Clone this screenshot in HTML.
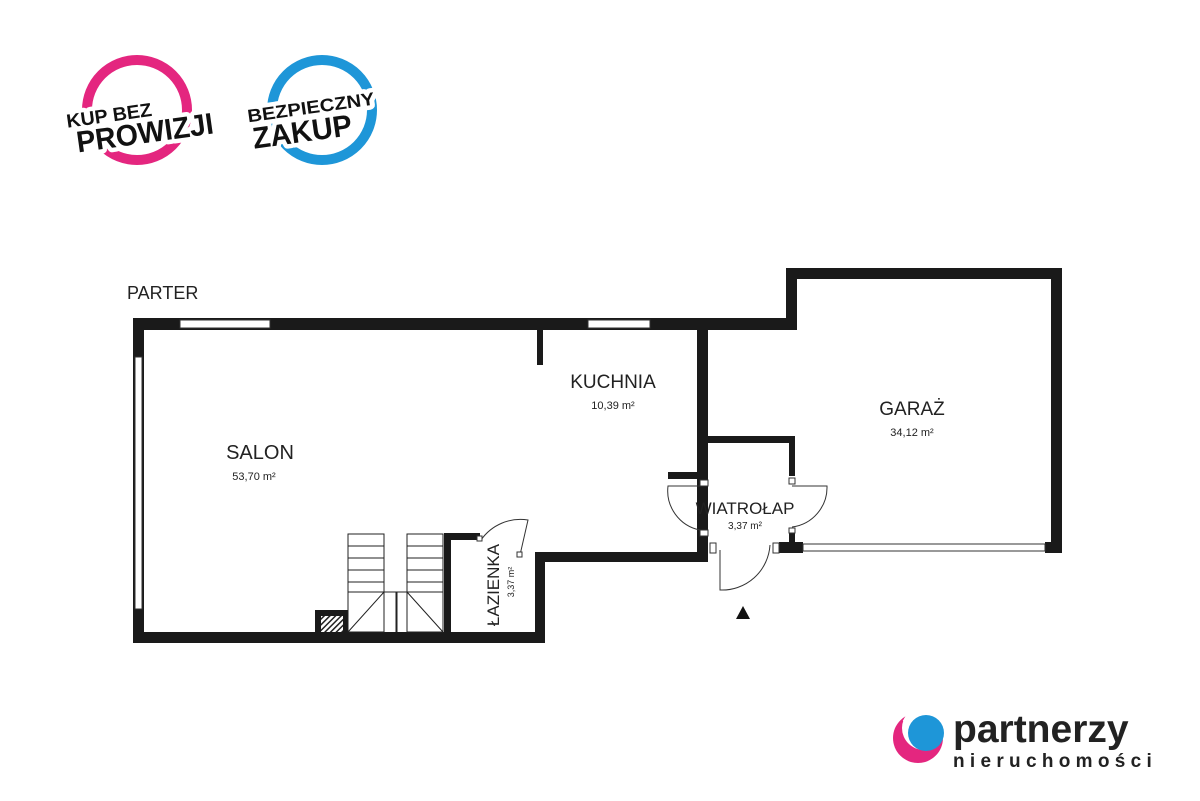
<!DOCTYPE html>
<html><head><meta charset="utf-8"><style>
html,body{margin:0;padding:0;background:#fff}
svg{display:block}
text{font-family:"Liberation Sans",sans-serif}
.b{font-weight:bold;fill:#111;stroke:#fff;stroke-width:9;paint-order:stroke;stroke-linejoin:round}
</style></head><body>
<svg width="1200" height="801" viewBox="0 0 1200 801" xmlns="http://www.w3.org/2000/svg">
<defs>
<pattern id="h" width="4" height="4" patternUnits="userSpaceOnUse" patternTransform="rotate(45)"><rect width="4" height="4" fill="#fff"/><rect width="1.5" height="4" fill="#222"/></pattern>
</defs>
<!-- badges -->
<circle cx="137" cy="110" r="50" fill="none" stroke="#e4267f" stroke-width="10"/>
<g transform="rotate(-8 137 120)">
<text class="b" x="110" y="118" font-size="19" text-anchor="middle" textLength="86" lengthAdjust="spacingAndGlyphs">KUP BEZ</text>
<text class="b" x="143" y="144" font-size="30" text-anchor="middle" textLength="138" lengthAdjust="spacingAndGlyphs">PROWIZJI</text>
</g>
<circle cx="322" cy="110" r="50" fill="none" stroke="#1e96d8" stroke-width="10"/>
<g transform="rotate(-8 315 115)">
<text class="b" x="312" y="113" font-size="18" text-anchor="middle" textLength="128" lengthAdjust="spacingAndGlyphs">BEZPIECZNY</text>
<text class="b" x="300" y="140" font-size="30" text-anchor="middle" textLength="100" lengthAdjust="spacingAndGlyphs">ZAKUP</text>
</g>

<text x="127" y="299" font-size="18" fill="#222">PARTER</text>

<g fill="#1a1a1a">
<rect x="133" y="318" width="664" height="12"/>
<rect x="133" y="318" width="11" height="325"/>
<rect x="133" y="632" width="412" height="11"/>
<rect x="537" y="330" width="6" height="35"/>
<rect x="697" y="318" width="11" height="232"/>
<rect x="786" y="268" width="11" height="62"/>
<rect x="786" y="268" width="276" height="11"/>
<rect x="1051" y="268" width="11" height="285"/>
<rect x="779" y="542" width="24" height="11"/>
<rect x="1045" y="542" width="17" height="11"/>
<rect x="708" y="436" width="87" height="7"/>
<rect x="789" y="436" width="6" height="40"/>
<rect x="668" y="472" width="40" height="7"/>
<rect x="789" y="532" width="6" height="14"/>
<rect x="535" y="552" width="173" height="10"/>
<rect x="697" y="542" width="11" height="20"/>
<rect x="535" y="552" width="10" height="91"/>
<rect x="444" y="533" width="7" height="100"/>
<rect x="444" y="533" width="36" height="7"/>
<rect x="315" y="610" width="33" height="23"/>
</g>
<rect x="321" y="616" width="22" height="16" fill="url(#h)"/>
<g fill="#fff" stroke="#333" stroke-width="1">
<rect x="180" y="320" width="90" height="8"/>
<rect x="588" y="320" width="62" height="8"/>
<rect x="135" y="357" width="7" height="252"/>
<rect x="803" y="544" width="242" height="7"/>
</g>
<g fill="none" stroke="#222" stroke-width="1">
<rect x="348" y="534" width="36" height="98"/>
<rect x="407" y="534" width="36" height="98"/>
<path d="M348 546H384M348 558H384M348 570H384M348 582H384M407 546H443M407 558H443M407 570H443M407 582H443M348 592H443M396 592V632M397 592V632M384 592L348 632M407 592L443 632"/>
</g>
<g fill="none" stroke="#333" stroke-width="1">
<path d="M481 540 A48 48 0 0 1 528 520 L520 555"/>
<path d="M720 550 V590 A48 48 0 0 0 770 545"/>
<path d="M700 486 H668 A40 40 0 0 0 700 530"/>
<path d="M792 486 H827 A40 40 0 0 1 792 527"/>
</g>
<g fill="#fff" stroke="#333" stroke-width="1">
<rect x="477" y="536" width="5" height="5"/>
<rect x="517" y="552" width="5" height="5"/>
<rect x="789" y="478" width="6" height="6"/>
<rect x="789" y="528" width="6" height="5"/>
<rect x="700" y="480" width="8" height="6"/>
<rect x="700" y="530" width="8" height="6"/>
<rect x="710" y="543" width="6" height="10"/>
<rect x="773" y="543" width="6" height="10"/>
</g>
<polygon points="743,606 736,619 750,619" fill="#111"/>

<g fill="#222" text-anchor="middle">
<text x="260" y="459" font-size="20">SALON</text>
<text x="254" y="480" font-size="11">53,70 m²</text>
<text x="613" y="388" font-size="19">KUCHNIA</text>
<text x="613" y="409" font-size="11">10,39 m²</text>
<text x="912" y="415" font-size="19">GARAŻ</text>
<text x="912" y="436" font-size="11">34,12 m²</text>
<text x="745" y="514" font-size="17">WIATROŁAP</text>
<text x="745" y="529" font-size="10">3,37 m²</text>
<text x="0" y="0" font-size="17" transform="translate(499 585) rotate(-90)">ŁAZIENKA</text>
<text x="0" y="0" font-size="9" transform="translate(514 582) rotate(-90)">3,37 m²</text>
</g>

<circle cx="918" cy="738" r="25" fill="#e4267f"/>
<circle cx="924" cy="728" r="22" fill="#fff"/>
<circle cx="926" cy="733" r="18" fill="#1e96d8"/>
<path d="M905 722 a18 18 0 0 1 18 -10" stroke="#fff" stroke-width="5" fill="none"/>
<text x="953" y="742" font-size="39" font-weight="bold" fill="#222">partnerzy</text>
<text x="953" y="767" font-size="19" font-weight="bold" fill="#222" letter-spacing="5.3">nieruchomości</text>
</svg>
</body></html>
